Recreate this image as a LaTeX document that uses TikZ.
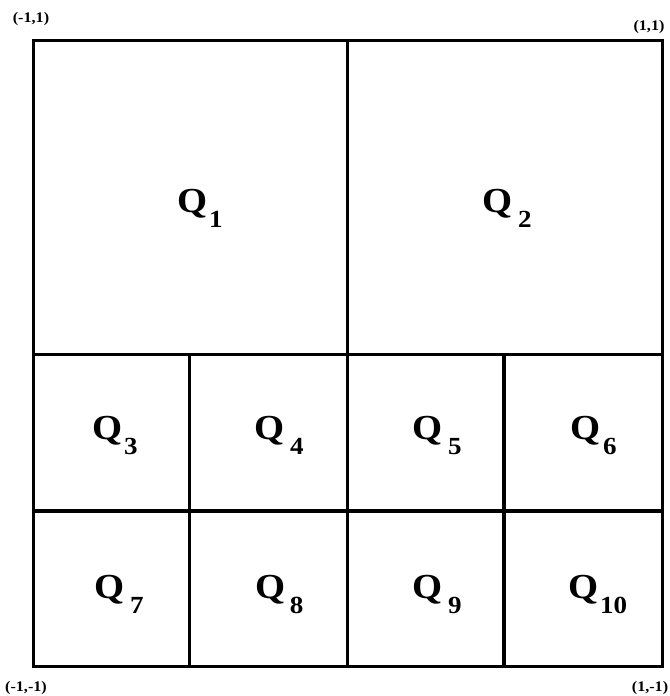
\documentclass[tikz,border=0pt]{standalone}
\usepackage{fontspec}
\setmainfont{Liberation Serif}[FakeStretch=1.1]
\usepackage{tikz}

\tikzset{
    cell/.style={line width=2.9pt},
    qlabel/.style={inner sep=0pt, anchor=base west, font=\bfseries\fontsize{30}{30}\selectfont},
    corner/.style={inner sep=0pt, font=\bfseries\fontsize{12.5}{13}\selectfont}
}
% optional argument: gap between Q and its index
\newcommand{\qsub}[2][1.5pt]{Q\kern#1\raisebox{-0.45cm}{\fontsize{21}{21}\selectfont #2}}

\begin{document}
\begin{tikzpicture}[x=0.03cm,y=-0.03cm]
        \useasboundingbox (0,0) rectangle (670,696);
        % Outer square
        \draw[cell] (33.5,40.5) coordinate (tl) rectangle (662.5,666.5) coordinate (br);

        % Splitting lines
        \draw[cell] (347.5,40.5) -- (347.5,666.5);
        \draw[cell] (33.5,354.5) -- (662.5,354.5);
        \draw[cell] (33.5,511) -- (662.5,511);
        \draw[cell] (189.5,354.5) -- (189.5,666.5);
        \draw[cell] (504,354.5) -- (504,666.5);

        % Corner labels
        \node[corner] (c1) at (31,19) {(-1,1)};
        \node[corner] (c2) at (649,27) {(1,1)};
        \node[corner] (c3) at (26,688) {(-1,-1)};
        \node[corner] (c4) at (650,688) {(1,-1)};

        % Cell labels
        \node[qlabel] (q1) at (177,212) {\qsub{1}};
        \node[qlabel] (q2) at (482,212) {\qsub[5pt]{2}};
        \node[qlabel] (q3) at (92,439) {\qsub{3}};
        \node[qlabel] (q4) at (254,439) {\qsub[5pt]{4}};
        \node[qlabel] (q5) at (412,439) {\qsub[5pt]{5}};
        \node[qlabel] (q6) at (570,439) {\qsub[2.5pt]{6}};
        \node[qlabel] (q7) at (94,598) {\qsub[5pt]{7}};
        \node[qlabel] (q8) at (255,598) {\qsub[4pt]{8}};
        \node[qlabel] (q9) at (412,598) {\qsub[5pt]{9}};
        \node[qlabel] (q10) at (568,598) {\qsub{10}};
\end{tikzpicture}
\end{document}
